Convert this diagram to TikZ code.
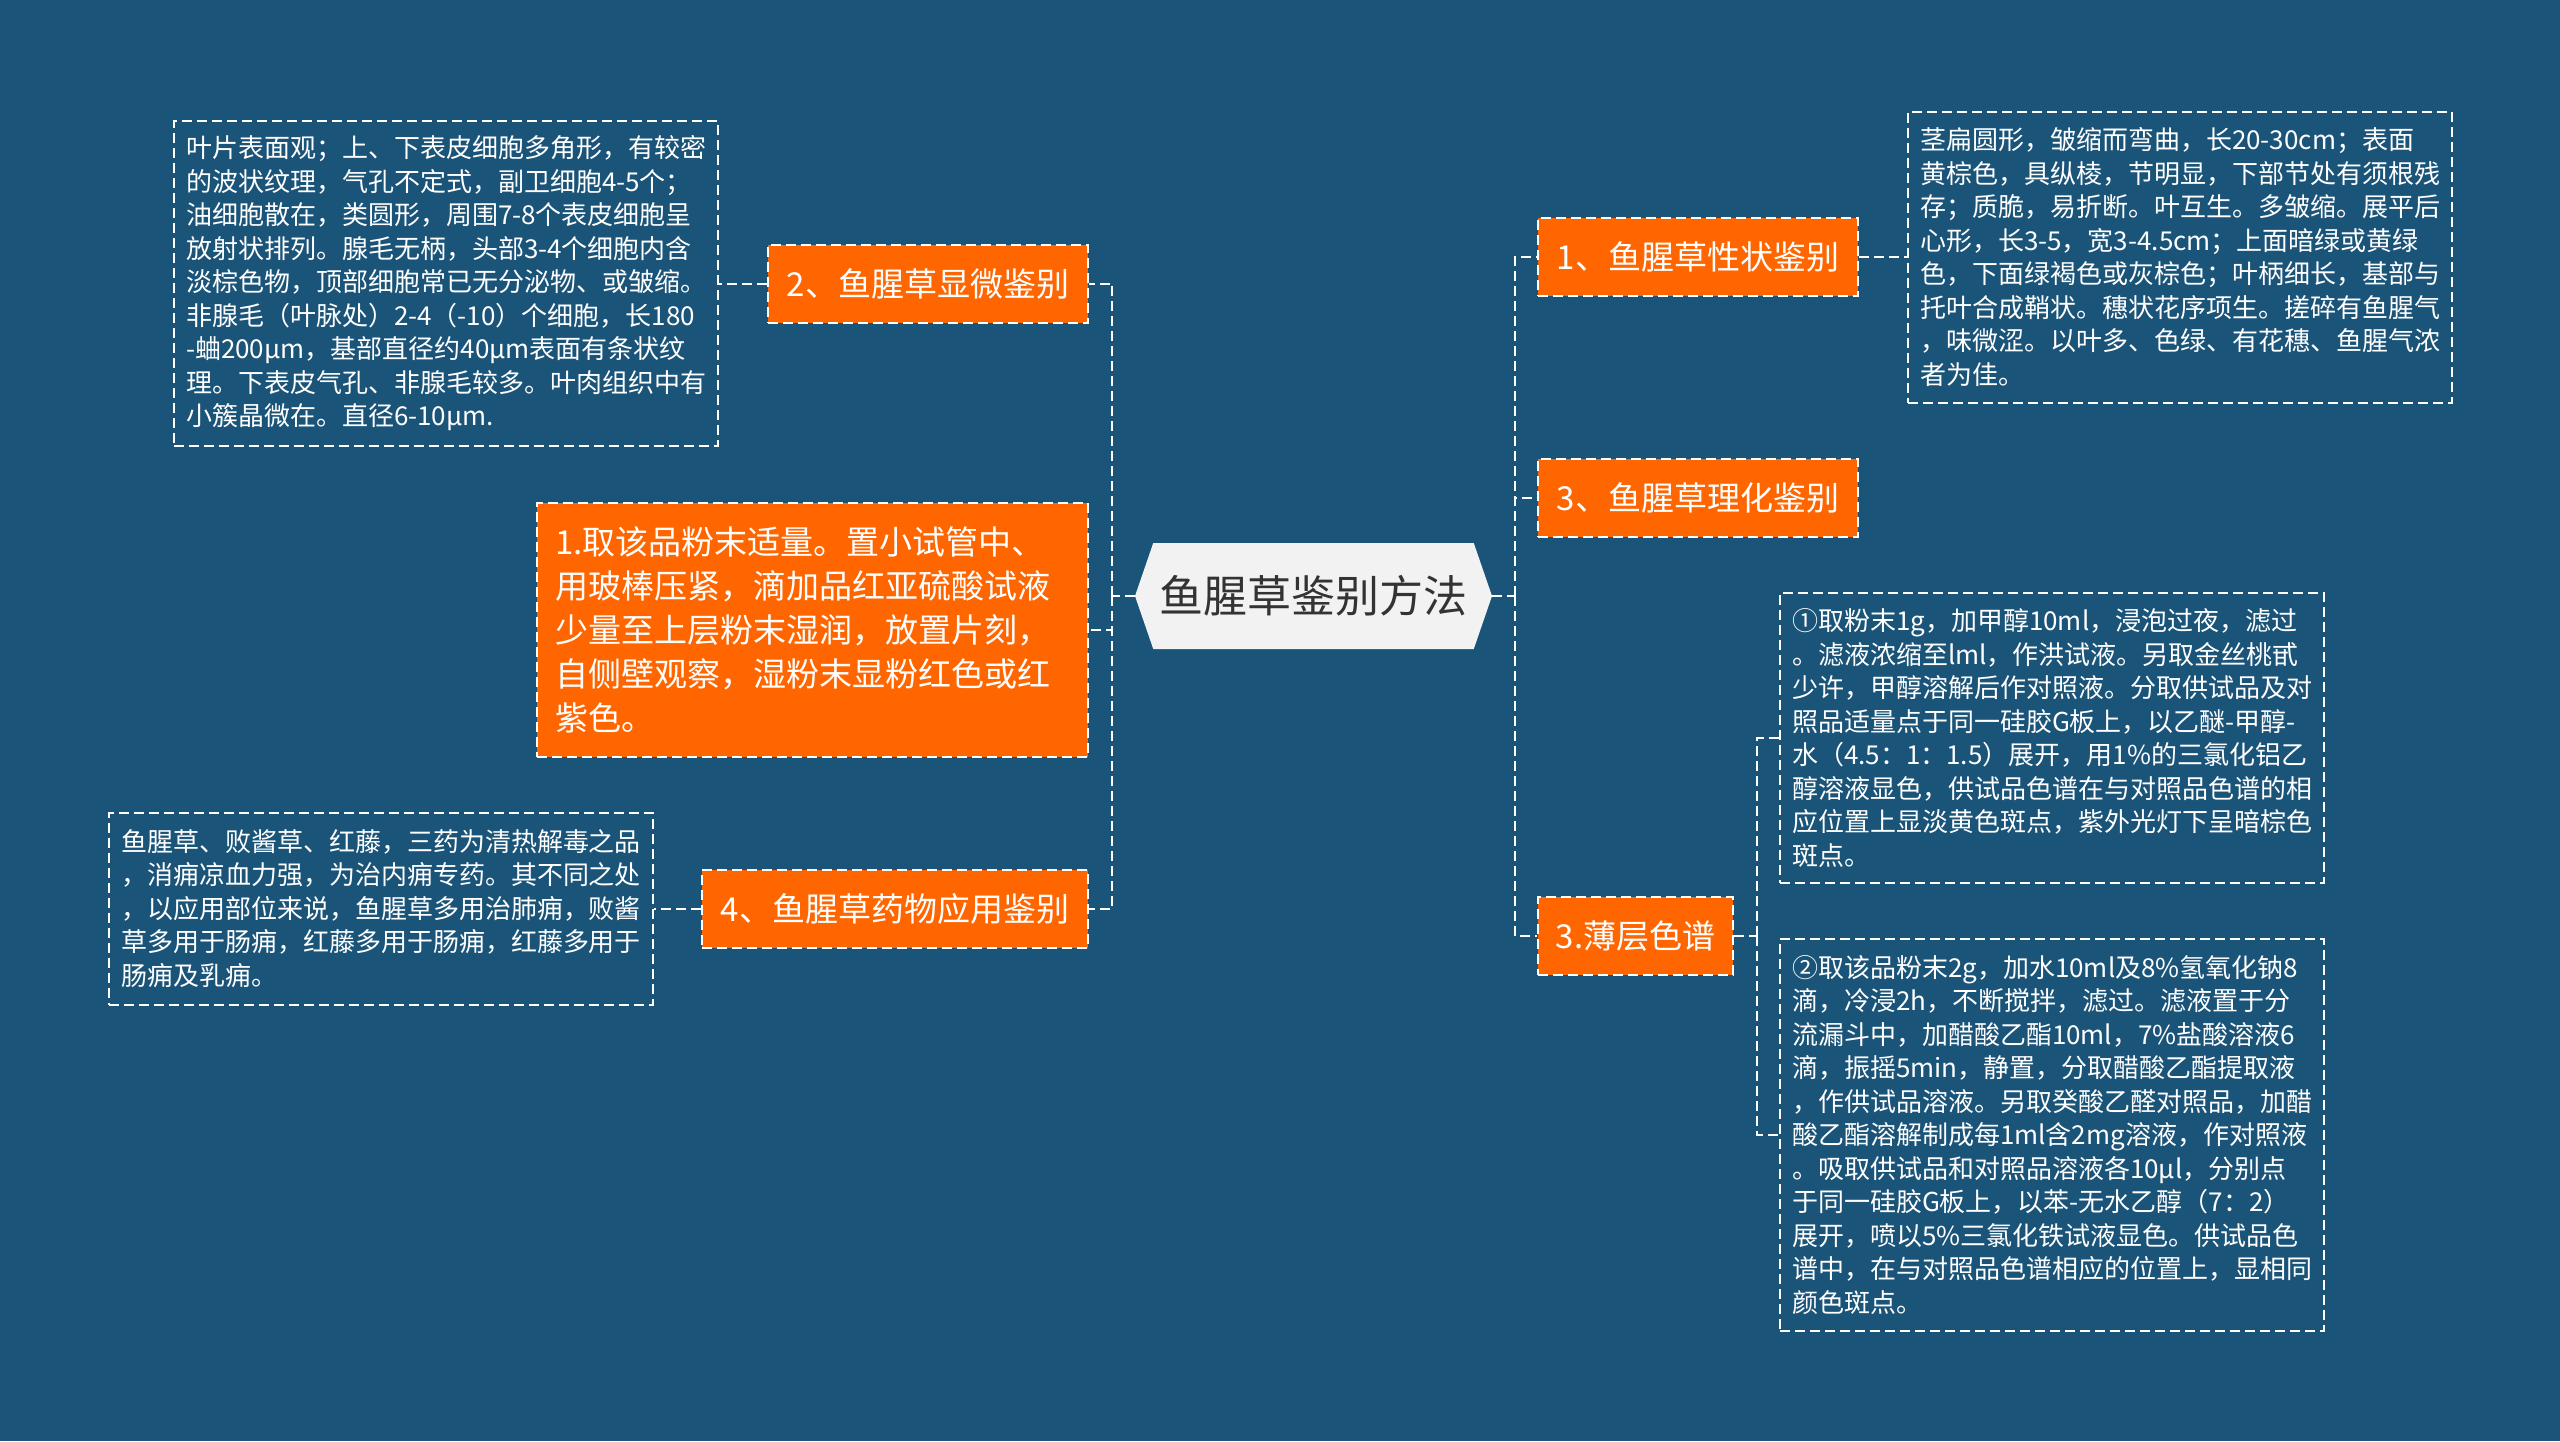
\documentclass[tikz,border=0pt]{standalone}
\usepackage{fontspec}
\setmainfont{Noto Sans CJK SC}
\usetikzlibrary{shapes.symbols,positioning}
\definecolor{bgblue}{RGB}{27,84,121}
\definecolor{topicorange}{RGB}{255,102,0}
\definecolor{rootgray}{RGB}{242,242,242}
\definecolor{roottext}{RGB}{51,51,51}

\begin{document}
\begin{tikzpicture}[
  x=0.5pt, y=-0.5pt,
  dashline/.style={line width=1pt, dash pattern=on 5pt off 2.5pt},
  root/.style={shape=signal, signal to=west and east, signal pointer angle=142,
               fill=rootgray, text=roottext, inner sep=0pt,
               minimum width=178.5pt, minimum height=53pt,
               font=\fontsize{22pt}{26pt}\selectfont},
  topic/.style={draw=white, dashline, fill=topicorange, text=white,
                minimum height=39pt, inner sep=0pt,
                font=\fontsize{16.5pt}{20pt}\selectfont},
  detail/.style={draw=white, dashline, text=white, align=left,
                 text width=260pt, inner xsep=6pt, inner ysep=0pt,
                 font=\fontsize{13pt}{16.75pt}\selectfont},
  link/.style={draw=white, dashline}
]
% Background
\fill[bgblue] (0,0) rectangle (2560,1441);
\useasboundingbox (0,0) rectangle (2560,1441);

% Root
\node[root] (root) at (1313.5,596) {鱼腥草鉴别方法};

% Left topics
\node[topic, minimum width=160pt] (micro) at (928,283.5) {2、鱼腥草显微鉴别};
\node[topic, minimum height=127pt, text width=257.5pt, inner xsep=9pt, align=left,
      font=\fontsize{16.5pt}{22pt}\selectfont] (stain) at (812.5,630)
  {1.取该品粉末适量。置小试管中、\\用玻棒压紧，滴加品红亚硫酸试液\\少量至上层粉末湿润，放置片刻，\\自侧壁观察，湿粉末显粉红色或红\\紫色。};
\node[topic, minimum width=193pt] (use) at (895,908.5) {4、鱼腥草药物应用鉴别};

% Right topics
\node[topic, minimum width=160pt] (shape) at (1698,257) {1、鱼腥草性状鉴别};
\node[topic, minimum width=160pt] (phys) at (1698,497.5) {3、鱼腥草理化鉴别};
\node[topic, minimum width=97.5pt] (tlc) at (1635.5,936) {3.薄层色谱};

% Detail boxes
\node[detail, minimum height=162.5pt, left=24pt of micro] (microtxt)
  {叶片表面观；上、下表皮细胞多角形，有较密\\的波状纹理，气孔不定式，副卫细胞4-5个；\\油细胞散在，类圆形，周围7-8个表皮细胞呈\\放射状排列。腺毛无柄，头部3-4个细胞内含\\淡棕色物，顶部细胞常已无分泌物、或皱缩。\\非腺毛（叶脉处）2-4（-10）个细胞，长180\\-蛐200μm，基部直径约40μm表面有条状纹\\理。下表皮气孔、非腺毛较多。叶肉组织中有\\小簇晶微在。直径6-10μm.};
\node[detail, minimum height=96pt, left=23.5pt of use] (usetxt)
  {鱼腥草、败酱草、红藤，三药为清热解毒之品\\，消痈凉血力强，为治内痈专药。其不同之处\\，以应用部位来说，鱼腥草多用治肺痈，败酱\\草多用于肠痈，红藤多用于肠痈，红藤多用于\\肠痈及乳痈。};
\node[detail, minimum height=145.5pt, right=24pt of shape] (shapetxt)
  {茎扁圆形，皱缩而弯曲，长20-30cm；表面\\黄棕色，具纵棱，节明显，下部节处有须根残\\存；质脆，易折断。叶互生。多皱缩。展平后\\心形，长3-5，宽3-4.5cm；上面暗绿或黄绿\\色，下面绿褐色或灰棕色；叶柄细长，基部与\\托叶合成鞘状。穗状花序项生。搓碎有鱼腥气\\，味微涩。以叶多、色绿、有花穗、鱼腥气浓\\者为佳。};
\node[detail, minimum height=145pt] (tlca) at (2052,738)
  {①取粉末1g，加甲醇10ml，浸泡过夜，滤过\\。滤液浓缩至lml，作洪试液。另取金丝桃甙\\少许，甲醇溶解后作对照液。分取供试品及对\\照品适量点于同一硅胶G板上，以乙醚-甲醇-\\水（4.5：1：1.5）展开，用1\%的三氯化铝乙\\醇溶液显色，供试品色谱在与对照品色谱的相\\应位置上显淡黄色斑点，紫外光灯下呈暗棕色\\斑点。};
\node[detail, minimum height=196pt] (tlcb) at (2052,1135)
  {②取该品粉末2g，加水10ml及8\%氢氧化钠8\\滴，冷浸2h，不断搅拌，滤过。滤液置于分\\流漏斗中，加醋酸乙酯10ml，7\%盐酸溶液6\\滴，振摇5min，静置，分取醋酸乙酯提取液\\，作供试品溶液。另取癸酸乙醛对照品，加醋\\酸乙酯溶解制成每1ml含2mg溶液，作对照液\\。吸取供试品和对照品溶液各10μl，分别点\\于同一硅胶G板上，以苯-无水乙醇（7：2）\\展开，喷以5\%三氯化铁试液显色。供试品色\\谱中，在与对照品色谱相应的位置上，显相同\\颜色斑点。};

% Junctions
\coordinate (lj) at (1112,596);
\coordinate (rj) at (1515,596);
\coordinate (tj) at (1757,936);

% Connectors
\draw[link] (root.west) -- (lj);
\draw[link] (lj) |- (micro.east);
\draw[link] (lj) |- (stain.east);
\draw[link] (lj) |- (use.east);
\draw[link] (root.east) -- (rj);
\draw[link] (rj) |- (shape.west);
\draw[link] (rj) |- (phys.west);
\draw[link] (rj) |- (tlc.west);
\draw[link] (micro.west) -- (microtxt.east);
\draw[link] (use.west) -- (usetxt.east);
\draw[link] (shape.east) -- (shapetxt.west);
\draw[link] (tlc.east) -- (tj);
\draw[link] (tj) |- (tlca.west);
\draw[link] (tj) |- (tlcb.west);
\end{tikzpicture}
\end{document}
